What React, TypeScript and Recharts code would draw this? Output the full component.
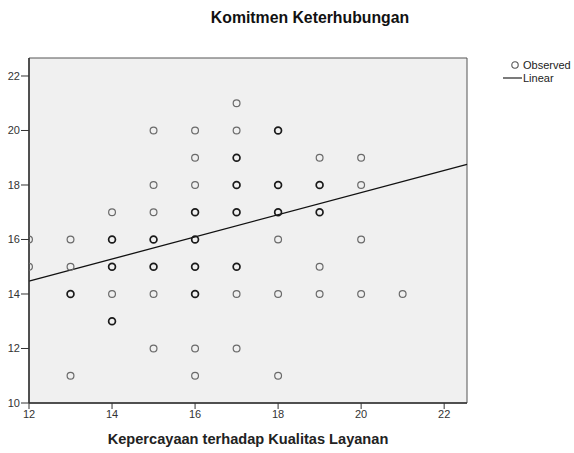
import { ScatterChart, Scatter, XAxis, YAxis, ReferenceArea, ReferenceLine } from "recharts";

// observed values, grouped by the x value (Kepercayaan terhadap Kualitas Layanan)
const X_VALUES = [12, 13, 14, 15, 16, 17, 18, 19, 20, 21];
const Y_BY_X = [
  [16, 15],
  [16, 15, 14, 11],
  [17, 16, 15, 14, 13],
  [20, 18, 17, 16, 15, 14, 12],
  [20, 19, 18, 17, 16, 15, 14, 12, 11],
  [21, 20, 19, 18, 17, 15, 14, 12],
  [20, 18, 17, 16, 14, 11],
  [19, 18, 17, 15, 14],
  [19, 18, 16, 14],
  [14],
];
// points drawn darker (several overlapping cases)
const HEAVY_BY_X = [
  [],
  [14],
  [16, 15, 13],
  [16, 15],
  [17, 16, 15, 14],
  [19, 18, 17, 15],
  [20, 18, 17],
  [18, 17],
  [],
  [],
];

const X_TICKS = [12, 14, 16, 18, 20, 22];
const Y_TICKS = [10, 12, 14, 16, 18, 20, 22];
const X_DOMAIN = [12, 22.55];
const Y_DOMAIN = [10, 22.66];

// fitted linear line, end points
const FIT_X = [12, 22.55];
const FIT_Y = [14.47, 18.76];

const FONT = "'Liberation Sans', Arial, sans-serif";

const points = X_VALUES.flatMap((x, i) =>
  Y_BY_X[i].map((y) => ({ x, y, heavy: HEAVY_BY_X[i].includes(y) }))
);

function Ring(props: any) {
  const { cx, cy, payload } = props;
  if (cx == null || cy == null) return null;
  return (
    <circle
      cx={cx}
      cy={cy}
      r={3.4}
      fill="none"
      stroke={payload.heavy ? "#1a1a1a" : "#6a6a6a"}
      strokeWidth={payload.heavy ? 1.7 : 1.2}
    />
  );
}

export default function App() {
  return (
    <div
      style={{
        position: "absolute",
        left: 0,
        top: 0,
        width: 574,
        height: 453,
        background: "#fff",
        fontFamily: FONT,
      }}
    >
      <div
        style={{
          position: "absolute",
          left: 0,
          width: 620,
          top: 9,
          textAlign: "center",
          fontWeight: "bold",
          fontSize: 15.8,
          color: "#111",
        }}
      >
        Komitmen Keterhubungan
      </div>

      <svg style={{ position: "absolute", left: 500, top: 58 }} width={74} height={28}>
        <circle cx={15} cy={7} r={3.2} fill="none" stroke="#555" strokeWidth={1.1} />
        <text x={23} y={11} fontSize={11} fontFamily={FONT} fill="#222">Observed</text>
        <line x1={3} y1={20} x2={22} y2={20} stroke="#222" strokeWidth={1.2} />
        <text x={23} y={24} fontSize={11} fontFamily={FONT} fill="#222">Linear</text>
      </svg>

      <ScatterChart
        width={574}
        height={453}
        margin={{ top: 58, right: 107, bottom: 0, left: 0 }}
        style={{ position: "absolute", left: 0, top: 0 }}
      >
        <XAxis
          type="number"
          dataKey="x"
          domain={X_DOMAIN}
          ticks={X_TICKS}
          allowDataOverflow
          height={50}
          tickSize={6}
          tickMargin={1}
          tick={{ fontSize: 11, fill: "#333", fontFamily: FONT }}
          tickLine={{ stroke: "#333" }}
          axisLine={{ stroke: "#333", strokeWidth: 1.5 }}
          label={{
            value: "Kepercayaan terhadap Kualitas Layanan",
            position: "insideBottom",
            offset: 9,
            style: { fontSize: 14.6, fontWeight: "bold", fill: "#222", fontFamily: FONT },
          }}
        />
        <YAxis
          type="number"
          dataKey="y"
          domain={Y_DOMAIN}
          ticks={Y_TICKS}
          allowDataOverflow
          width={29}
          tickSize={8}
          tickMargin={1}
          tick={{ fontSize: 11, fill: "#333", fontFamily: FONT }}
          tickLine={{ stroke: "#333" }}
          axisLine={{ stroke: "#333", strokeWidth: 1.5 }}
        />
        <ReferenceArea
          x1={X_DOMAIN[0]}
          x2={X_DOMAIN[1]}
          y1={Y_DOMAIN[0]}
          y2={Y_DOMAIN[1]}
          fill="#f0f0f0"
          fillOpacity={1}
          stroke="#555"
          strokeWidth={1}
        />
        <ReferenceLine
          segment={[
            { x: FIT_X[0], y: FIT_Y[0] },
            { x: FIT_X[1], y: FIT_Y[1] },
          ]}
          stroke="#111"
          strokeWidth={1.3}
        />
        <Scatter data={points} shape={<Ring />} isAnimationActive={false} />
      </ScatterChart>
    </div>
  );
}
